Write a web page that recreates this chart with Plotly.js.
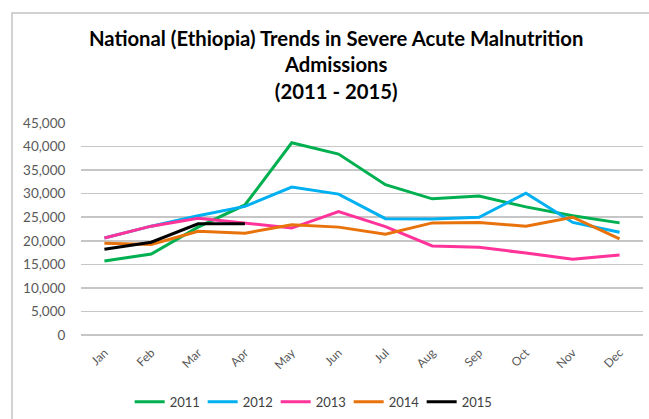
<!DOCTYPE html>
<html>
<head>
<meta charset="utf-8">
<script src="https://cdn.plot.ly/plotly-3.0.1.min.js"></script>
<style>
html,body{margin:0;padding:0;background:#fff;}
#chart{width:649px;height:419px;}
</style>
</head>
<body>
<div id="chart"></div>
<script>
const months = ["Jan","Feb","Mar","Apr","May","Jun","Jul","Aug","Sep","Oct","Nov","Dec"];
const years = ["2011","2012","2013","2014","2015"];
const v2011 = [15700,17200,22900,27600,40800,38400,31900,28900,29500,27200,25300,23800];
const v2012 = [20600,23100,25300,27300,31400,29900,24700,24600,25000,30100,23900,21800];
const v2013 = [20600,23100,24800,23800,22700,26200,23000,18900,18600,17400,16100,17000];
const v2014 = [19500,19200,22000,21600,23400,22900,21400,23800,23900,23100,25000,20400];
const v2015 = [18200,19700,23600,23600];
const colors = ["#00b050","#00b0f0","#ff3399","#e8720c","#000000"];
const series = [v2011,v2012,v2013,v2014,v2015];

const traces = series.map((vals,i)=>({
  type:"scatter", mode:"lines",
  x: months.slice(0, vals.length), y: vals,
  name: years[i],
  line:{color:colors[i], width:3}
}));

const layout = {
  width:649, height:419,
  margin:{l:81, r:6, t:123, b:84, autoexpand:false},
  paper_bgcolor:"#fff", plot_bgcolor:"#fff",
  font:{family:"Lato, 'Open Sans', sans-serif", color:"#595959", size:13},
  title:{
    text:"National (Ethiopia) Trends in Severe Acute Malnutrition<br>Admissions<br>(2011 - 2015)",
    font:{family:"Lato, 'Open Sans', sans-serif", size:20.3, color:"#000", weight:"bold"},
    xref:"container", x:0.518, xanchor:"center",
    yref:"container", y:0.89, yanchor:"top"
  },
  xaxis:{
    type:"category", categoryorder:"array", categoryarray:months,
    range:[-0.5,11.5], automargin:false,
    showgrid:false, zeroline:false, showline:false,
    tickangle:-45, ticks:"outside", ticklen:5, tickcolor:"rgba(0,0,0,0)",
    tickfont:{size:12, color:"#595959"}
  },
  yaxis:{
    range:[0,45000], dtick:5000, tickformat:",", automargin:false,
    showgrid:true, gridcolor:"#c6c6c6", gridwidth:1.5,
    zeroline:true, zerolinecolor:"#c6c6c6", zerolinewidth:1.5,
    showline:false,
    ticks:"outside", ticklen:12, tickcolor:"rgba(0,0,0,0)",
    tickfont:{size:13.5, color:"#595959"}
  },
  showlegend:true,
  legend:{
    orientation:"h", xref:"container", yref:"container",
    x:0.481, xanchor:"center", y:0.041, yanchor:"middle",
    font:{size:13, color:"#404040"},
    entrywidth:28, entrywidthmode:"pixels", tracegroupgap:0
  },
  shapes:[{
    type:"rect", xref:"paper", yref:"paper",
    x0:-0.1228, x1:1.05, y0:-0.5, y1:1.519,
    line:{color:"#c4c4c4", width:1.5}, fillcolor:"rgba(0,0,0,0)", layer:"below"
  }]
};

Plotly.newPlot("chart", traces, layout, {displayModeBar:false, staticPlot:true});
</script>
</body>
</html>
